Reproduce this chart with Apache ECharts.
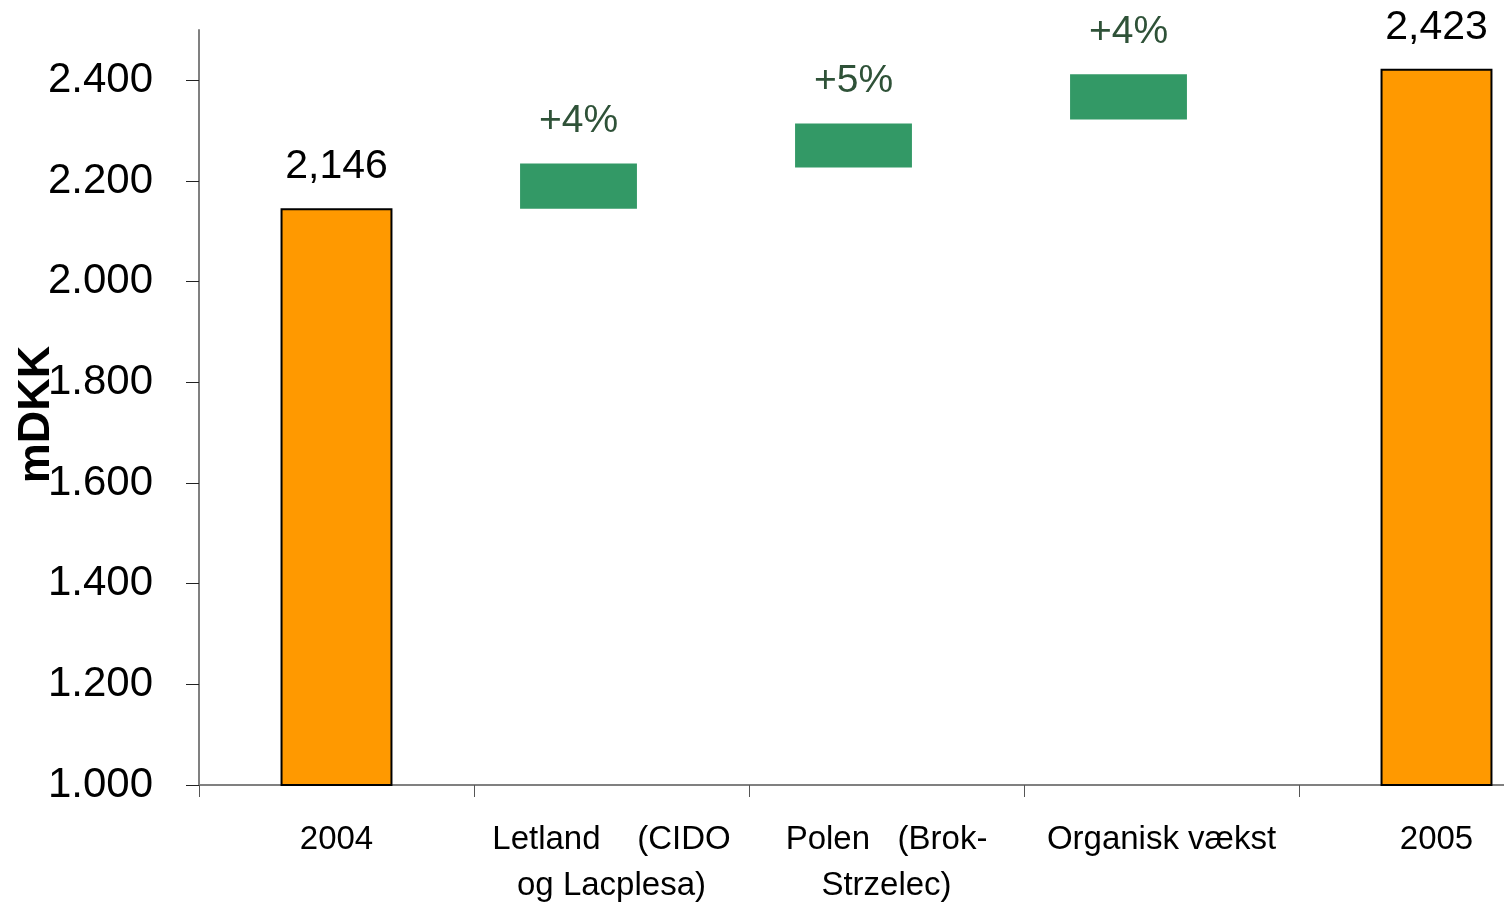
<!DOCTYPE html>
<html>
<head>
<meta charset="utf-8">
<script src="https://cdn.jsdelivr.net/npm/echarts@6/dist/echarts.min.js"></script>
<style>
  html, body { margin: 0; padding: 0; background: #ffffff; }
  #chart { width: 1504px; height: 905px; }
</style>
</head>
<body>
<div id="chart"></div>
<script>
// ---- data ----
const categories = ['2004', 'Letland    (CIDO\nog Lacplesa)', 'Polen   (Brok-\nStrzelec)', 'Organisk vækst', '2005'];
const totalValues = [2146, null, null, null, 2423];
const stepLow = [null, 2145, 2227, 2322, null];
const stepHigh = [null, 2235, 2314, 2412, null];
const stepLabels = [null, '+4%', '+5%', '+4%', null];
const yTicks = [1000, 1200, 1400, 1600, 1800, 2000, 2200, 2400];
const yName = 'mDKK';

const chart = echarts.init(document.getElementById('chart'), null, { renderer: 'canvas' });

const fmtDot = v => String(v).replace(/\B(?=(\d{3})+(?!\d))/g, '.');
const fmtComma = v => String(v).replace(/\B(?=(\d{3})+(?!\d))/g, ',');

const stepData = [];
categories.forEach((c, i) => {
  if (stepLow[i] != null) stepData.push([i, stepLow[i], stepHigh[i], stepLabels[i]]);
});

const option = {
  backgroundColor: '#ffffff',
  animation: false,
  textStyle: { fontFamily: "'Liberation Sans', Arial, sans-serif" },
  grid: { left: 199, top: 30, bottom: 120, right: -70, containLabel: false, outerBoundsMode: 'none' },
  xAxis: {
    type: 'category',
    data: categories,
    boundaryGap: true,
    axisLine: { lineStyle: { color: '#808080', width: 2 } },
    axisTick: { show: true, length: 12, lineStyle: { color: '#555', width: 1 } },
    axisLabel: {
      interval: 0,
      margin: 32,
      fontSize: 33,
      lineHeight: 46,
      color: '#000',
      fontFamily: "'Liberation Sans', Arial, sans-serif"
    }
  },
  yAxis: {
    type: 'value',
    min: 1000,
    max: 2500,
    interval: 200,
    name: yName,
    nameLocation: 'middle',
    nameRotate: 90,
    nameGap: 140,
    nameMoveOverlap: false,
    nameTextStyle: { fontSize: 45, fontWeight: 'bold', color: '#000', padding: [0, 14, 0, 0] },
    axisLine: { show: true, lineStyle: { color: '#808080', width: 2 } },
    axisTick: { show: true, length: 13, customValues: yTicks, lineStyle: { color: '#222', width: 1 } },
    splitLine: { show: false },
    axisLabel: {
      customValues: yTicks,
      margin: 46,
      fontSize: 42,
      color: '#000',
      formatter: v => fmtDot(v)
    }
  },
  series: [
    {
      type: 'bar',
      data: totalValues.map(v => v == null ? '-' : v),
      barWidth: '40.7%',
      itemStyle: { color: '#FF9900', borderColor: '#000', borderWidth: 2 },
      label: {
        show: true,
        position: 'top',
        distance: 21,
        fontSize: 41,
        color: '#000',
        formatter: p => fmtComma(p.value)
      },
      z: 2
    },
    {
      type: 'custom',
      data: stepData,
      encode: { x: 0, y: [1, 2] },
      renderItem: (params, api) => {
        const idx = api.value(0);
        const top = api.coord([idx, api.value(2)]);
        const bot = api.coord([idx, api.value(1)]);
        const band = api.size([1, 0])[0];
        const w = band * 0.425;
        const cx = top[0] - band * 0.12;
        return {
          type: 'group',
          children: [
            {
              type: 'rect',
              shape: { x: cx - w / 2, y: top[1], width: w, height: bot[1] - top[1] },
              style: { fill: '#339966' }
            },
            {
              type: 'text',
              style: {
                x: cx,
                y: top[1] - 23,
                text: stepData[params.dataIndex][3],
                fill: '#2F5238',
                fontSize: 39,
                fontFamily: "'Liberation Sans', Arial, sans-serif",
                align: 'center',
                verticalAlign: 'bottom'
              }
            }
          ]
        };
      },
      z: 3
    }
  ]
};

chart.setOption(option);
</script>
</body>
</html>
